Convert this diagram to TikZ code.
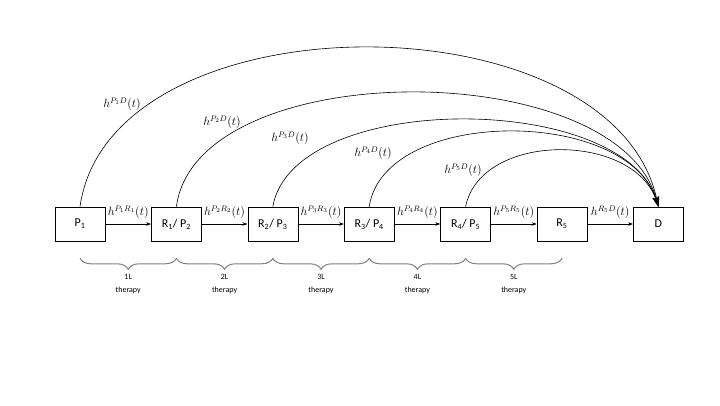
\documentclass[tikz,border=0pt]{standalone}
\usepackage{amsmath}
\usepackage{fontspec}
\setmainfont{Carlito}
\usetikzlibrary{positioning,arrows.meta,decorations.pathreplacing}

\tikzset{
    state/.style={draw, line width=0.6pt, minimum width=50pt, minimum height=34pt,
        inner sep=0pt, font=\fontsize{12}{14}\selectfont},
    trans/.style={-{Stealth[length=5pt,width=3.5pt]}, line width=0.6pt},
    exit/.style={-{Stealth[length=10pt,width=6pt]}, line width=0.6pt},
    rate/.style={inner sep=1pt, font=\fontsize{12}{14}\selectfont},
    therapybrace/.style={decorate, decoration={brace, mirror, amplitude=11pt},
        draw=gray, line width=1pt},
    therapy/.style={align=center, inner sep=0pt, font=\fontsize{8}{13}\selectfont}
}

\begin{document}
\begin{tikzpicture}[x=1pt, y=1pt, node distance=45.8pt]
    \useasboundingbox (0,0) rectangle (720,405);

    % states
    \node[state] (p1) at (80,181) {P\textsubscript{1}};
    \node[state, right=of p1] (rp2) {R\textsubscript{1}/ P\textsubscript{2}};
    \node[state, right=of rp2] (rp3) {R\textsubscript{2}/ P\textsubscript{3}};
    \node[state, right=of rp3] (rp4) {R\textsubscript{3}/ P\textsubscript{4}};
    \node[state, right=of rp4] (rp5) {R\textsubscript{4}/ P\textsubscript{5}};
    \node[state, right=of rp5] (r5) {R\textsubscript{5}};
    \node[state, right=of r5] (d) {D};

    % response transitions
    \draw[trans] (p1) -- node[rate, above=4pt] {$h^{P_1R_1}(t)$} (rp2);
    \draw[trans] (rp2) -- node[rate, above=4pt] {$h^{P_2R_2}(t)$} (rp3);
    \draw[trans] (rp3) -- node[rate, above=4pt] {$h^{P_3R_3}(t)$} (rp4);
    \draw[trans] (rp4) -- node[rate, above=4pt] {$h^{P_4R_4}(t)$} (rp5);
    \draw[trans] (rp5) -- node[rate, above=4pt] {$h^{P_5R_5}(t)$} (r5);
    \draw[trans] (r5) -- node[rate, above=4pt] {$h^{R_5D}(t)$} (d);

    % death transitions
    \draw[exit] (p1.north) .. controls +(30,212) and +(-45,212) .. (d.north);
    \draw[exit] (rp2.north) .. controls +(20,152) and +(-40,152) .. (d.north);
    \draw[exit] (rp3.north) .. controls +(20,116) and +(-35,116) .. (d.north);
    \draw[exit] (rp4.north) .. controls +(15,100) and +(-30,100) .. (d.north);
    \draw[exit] (rp5.north) .. controls +(15,75) and +(-25,75) .. (d.north);
    \node[rate] (lp1) at (122,301) {$h^{P_1D}(t)$};
    \node[rate] (lp2) at (222,283) {$h^{P_2D}(t)$};
    \node[rate] (lp3) at (290,267) {$h^{P_3D}(t)$};
    \node[rate] (lp4) at (373,252) {$h^{P_4D}(t)$};
    \node[rate] (lp5) at (463,235) {$h^{P_5D}(t)$};

    % lines of therapy
    \draw[therapybrace] ([yshift=-17pt]p1.south) -- node[therapy, below=16pt] {1L\\therapy} ([yshift=-17pt]rp2.south);
    \draw[therapybrace] ([yshift=-17pt]rp2.south) -- node[therapy, below=16pt] {2L\\therapy} ([yshift=-17pt]rp3.south);
    \draw[therapybrace] ([yshift=-17pt]rp3.south) -- node[therapy, below=16pt] {3L\\therapy} ([yshift=-17pt]rp4.south);
    \draw[therapybrace] ([yshift=-17pt]rp4.south) -- node[therapy, below=16pt] {4L\\therapy} ([yshift=-17pt]rp5.south);
    \draw[therapybrace] ([yshift=-17pt]rp5.south) -- node[therapy, below=16pt] {5L\\therapy} ([yshift=-17pt]r5.south);
\end{tikzpicture}
\end{document}
